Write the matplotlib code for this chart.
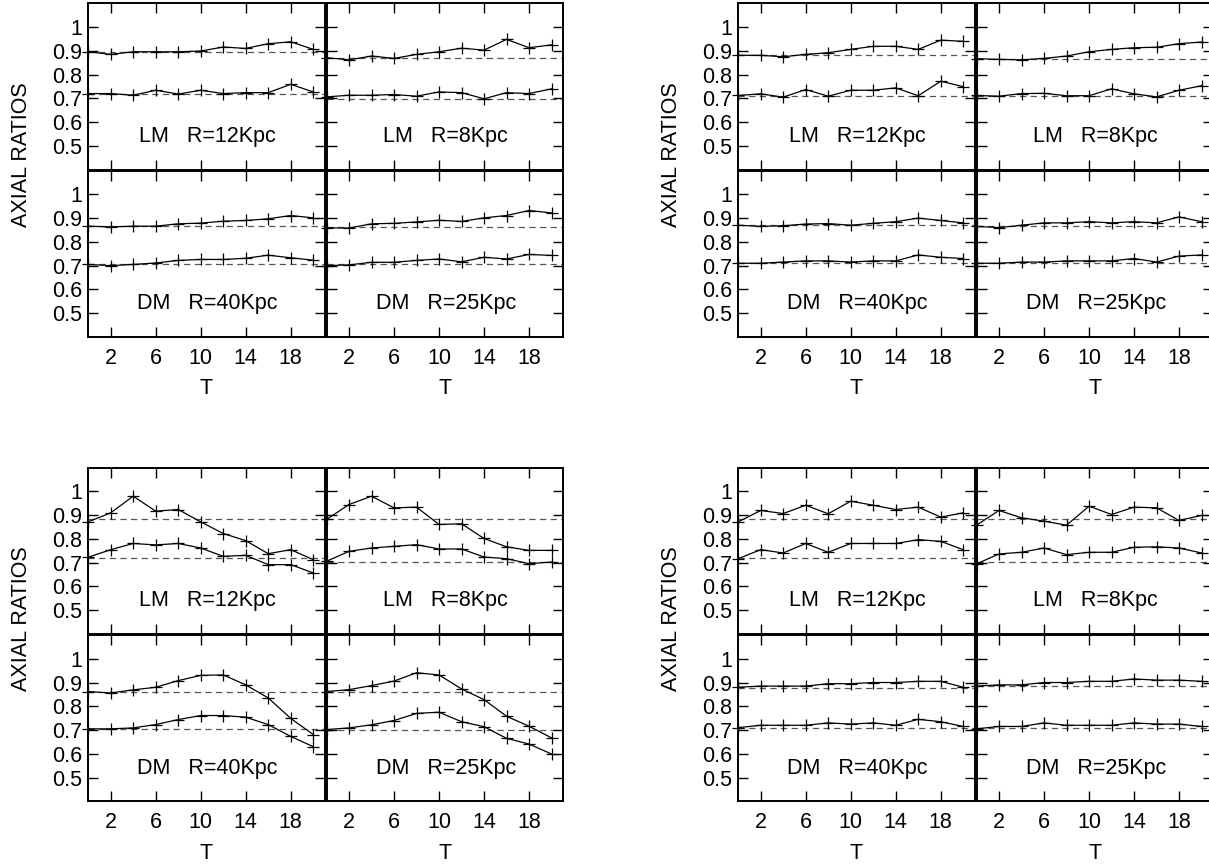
import matplotlib
matplotlib.use("Agg")
import matplotlib.pyplot as plt

plt.rcParams["font.family"] = ["Liberation Sans", "DejaVu Sans"]

# ---- data (axial ratios vs time T) -----------------------------------------
T = [0, 2, 4, 6, 8, 10, 12, 14, 16, 18, 20]
panel_labels = ["LM   R=12Kpc", "LM   R=8Kpc", "DM   R=40Kpc", "DM   R=25Kpc"]

# group A (top left)
a_lm12_hi = [0.896, 0.885, 0.896, 0.896, 0.896, 0.899, 0.916, 0.910, 0.930, 0.938, 0.906]
a_lm12_lo = [0.720, 0.720, 0.713, 0.734, 0.718, 0.734, 0.720, 0.724, 0.724, 0.759, 0.727]
a_lm8_hi = [0.871, 0.862, 0.878, 0.868, 0.885, 0.896, 0.911, 0.903, 0.948, 0.913, 0.925]
a_lm8_lo = [0.706, 0.713, 0.713, 0.716, 0.709, 0.727, 0.724, 0.698, 0.724, 0.720, 0.740]
a_dm40_hi = [0.866, 0.863, 0.866, 0.866, 0.876, 0.879, 0.887, 0.890, 0.897, 0.911, 0.901]
a_dm40_lo = [0.705, 0.700, 0.705, 0.711, 0.722, 0.726, 0.726, 0.731, 0.744, 0.733, 0.723]
a_dm25_hi = [0.859, 0.858, 0.876, 0.878, 0.884, 0.891, 0.886, 0.901, 0.911, 0.932, 0.922]
a_dm25_lo = [0.700, 0.703, 0.714, 0.714, 0.722, 0.728, 0.716, 0.735, 0.728, 0.747, 0.743]
a_ref = [(0.896, 0.720), (0.871, 0.699), (0.866, 0.707), (0.861, 0.707)]

# group B (top right)
b_lm12_hi = [0.881, 0.881, 0.875, 0.885, 0.892, 0.906, 0.919, 0.919, 0.906, 0.945, 0.940]
b_lm12_lo = [0.712, 0.719, 0.705, 0.737, 0.709, 0.734, 0.734, 0.744, 0.711, 0.772, 0.749]
b_lm8_hi = [0.867, 0.864, 0.862, 0.868, 0.878, 0.896, 0.906, 0.913, 0.915, 0.930, 0.937]
b_lm8_lo = [0.712, 0.709, 0.720, 0.721, 0.711, 0.711, 0.740, 0.719, 0.706, 0.734, 0.753]
b_dm40_hi = [0.870, 0.865, 0.868, 0.875, 0.877, 0.870, 0.878, 0.885, 0.900, 0.890, 0.880]
b_dm40_lo = [0.710, 0.710, 0.715, 0.720, 0.720, 0.715, 0.720, 0.720, 0.745, 0.735, 0.730]
b_dm25_hi = [0.865, 0.860, 0.870, 0.880, 0.880, 0.885, 0.880, 0.885, 0.880, 0.905, 0.885]
b_dm25_lo = [0.710, 0.710, 0.715, 0.715, 0.720, 0.720, 0.720, 0.730, 0.715, 0.740, 0.745]
b_ref = [(0.881, 0.711), (0.867, 0.709), (0.872, 0.710), (0.866, 0.710)]

# group C (bottom left)
c_lm12_hi = [0.872, 0.910, 0.980, 0.917, 0.924, 0.872, 0.823, 0.793, 0.738, 0.755, 0.713]
c_lm12_lo = [0.723, 0.755, 0.781, 0.775, 0.781, 0.762, 0.727, 0.731, 0.692, 0.692, 0.657]
c_lm8_hi = [0.882, 0.945, 0.980, 0.931, 0.934, 0.861, 0.864, 0.802, 0.767, 0.752, 0.752]
c_lm8_lo = [0.706, 0.748, 0.762, 0.769, 0.776, 0.758, 0.758, 0.724, 0.717, 0.696, 0.703]
c_dm40_hi = [0.862, 0.856, 0.869, 0.880, 0.908, 0.930, 0.932, 0.890, 0.835, 0.749, 0.681]
c_dm40_lo = [0.705, 0.705, 0.709, 0.723, 0.744, 0.761, 0.761, 0.754, 0.723, 0.673, 0.630]
c_dm25_hi = [0.862, 0.870, 0.887, 0.906, 0.941, 0.932, 0.873, 0.828, 0.758, 0.716, 0.667]
c_dm25_lo = [0.702, 0.709, 0.722, 0.740, 0.770, 0.775, 0.735, 0.714, 0.665, 0.641, 0.599]
c_ref = [(0.882, 0.720), (0.882, 0.702), (0.862, 0.705), (0.862, 0.702)]

# group D (bottom right)
d_lm12_hi = [0.872, 0.920, 0.907, 0.942, 0.906, 0.959, 0.942, 0.924, 0.934, 0.892, 0.910]
d_lm12_lo = [0.717, 0.755, 0.741, 0.781, 0.744, 0.781, 0.781, 0.781, 0.797, 0.790, 0.755]
d_lm8_hi = [0.858, 0.920, 0.889, 0.875, 0.858, 0.938, 0.903, 0.934, 0.931, 0.878, 0.899]
d_lm8_lo = [0.695, 0.737, 0.744, 0.762, 0.734, 0.744, 0.744, 0.765, 0.767, 0.762, 0.741]
d_dm40_hi = [0.880, 0.885, 0.885, 0.885, 0.895, 0.895, 0.900, 0.900, 0.905, 0.905, 0.880]
d_dm40_lo = [0.710, 0.720, 0.720, 0.720, 0.730, 0.725, 0.730, 0.720, 0.745, 0.735, 0.715]
d_dm25_hi = [0.885, 0.890, 0.890, 0.900, 0.900, 0.905, 0.905, 0.915, 0.910, 0.910, 0.905]
d_dm25_lo = [0.705, 0.715, 0.715, 0.730, 0.720, 0.720, 0.720, 0.730, 0.725, 0.725, 0.715]
d_ref = [(0.885, 0.720), (0.882, 0.702), (0.875, 0.710), (0.885, 0.710)]

groups = [
    ((88.2, 3.3), [(a_lm12_hi, a_lm12_lo), (a_lm8_hi, a_lm8_lo),
                   (a_dm40_hi, a_dm40_lo), (a_dm25_hi, a_dm25_lo)], a_ref),
    ((738.2, 3.3), [(b_lm12_hi, b_lm12_lo), (b_lm8_hi, b_lm8_lo),
                    (b_dm40_hi, b_dm40_lo), (b_dm25_hi, b_dm25_lo)], b_ref),
    ((88.2, 467.7), [(c_lm12_hi, c_lm12_lo), (c_lm8_hi, c_lm8_lo),
                     (c_dm40_hi, c_dm40_lo), (c_dm25_hi, c_dm25_lo)], c_ref),
    ((738.2, 467.7), [(d_lm12_hi, d_lm12_lo), (d_lm8_hi, d_lm8_lo),
                      (d_dm40_hi, d_dm40_lo), (d_dm25_hi, d_dm25_lo)], d_ref),
]

W, H = 1209, 867
PW, PH = 236.3, 166.3
FS = 15.5

fig = plt.figure(figsize=(W / 100, H / 100), dpi=100)


def px_axes(x0, y0, w, h):
    return fig.add_axes([x0 / W, 1 - (y0 + h) / H, w / W, h / H])


for (gx, gy), series, refs in groups:
    for k, ((hi, lo), (r_hi, r_lo)) in enumerate(zip(series, refs)):
        row, col = divmod(k, 2)
        ax = px_axes(gx + col * (PW + 2.0), gy + row * (PH + 1.0), PW, PH)
        ax.set_xlim(0, 21)
        ax.set_ylim(0.4, 1.1)
        for lvl in (r_hi, r_lo):
            ax.axhline(lvl, color="#555555", lw=0.9, dashes=(5, 3.5), zorder=1)
        for ys in (hi, lo):
            ax.plot(T, ys, color="black", lw=0.9, marker="+", ms=8, mew=0.9,
                    clip_on=False, zorder=3)
        ax.text(10.6, 0.54, panel_labels[k], ha="center", va="center", fontsize=FS)
        ax.set_xticks([2, 6, 10, 14, 18])
        ax.set_yticks([0.5, 0.6, 0.7, 0.8, 0.9, 1.0])
        ax.set_yticklabels(["0.5", "0.6", "0.7", "0.8", "0.9", "1"])
        ax.tick_params(direction="in", length=7, width=1.0, top=True, right=True,
                       labelsize=FS, labelleft=(col == 0), labelbottom=(row == 1))
        ax.tick_params(axis="x", pad=8)
        ax.tick_params(axis="y", pad=4.5)
        for sp in ax.spines.values():
            sp.set_linewidth(1.4)
        ax.patch.set_alpha(0)
        if row == 1:
            cx = gx + col * (PW + 2.0) + PW / 2
            fig.text(cx / W, 1 - (gy + 2 * PH + 53) / H, "T", ha="center",
                     va="center", fontsize=FS)
    fig.text((gx - 67) / W, 1 - (gy + 151) / H, "AXIAL RATIOS", rotation=90,
             ha="center", va="center", fontsize=FS)

fig.savefig("out.png", dpi=100)
